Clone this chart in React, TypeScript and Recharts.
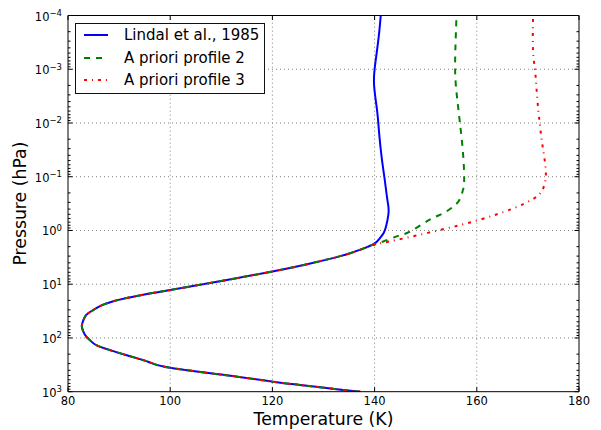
import React from 'react';
import { LineChart, Line, XAxis, YAxis, ReferenceLine, Legend } from 'recharts';

const FONT = '"DejaVu Sans", "Bitstream Vera Sans", Verdana, sans-serif';

// Shared lower atmosphere part (pressure in hPa, temperature in K)
const commonP = [1000, 900, 750, 650, 500, 360, 280, 210, 145, 117, 95, 76, 60, 47, 37, 30, 24, 18, 12.8, 8.7, 5.8, 4.2, 3.0, 2.3];
const commonT = [137.2, 132.6, 125.4, 120.0, 111.4, 100.0, 95.8, 91.5, 86.2, 84.6, 83.6, 83.0, 82.7, 83.0, 83.6, 85.0, 86.9, 91.5, 100.0, 110.0, 120.0, 127.0, 133.3, 137.1];

// Lindal et al., 1985 upper part
const lindalP = [1.8, 1.4, 1.1, 0.8, 0.5, 0.36, 0.23, 0.1, 0.045, 0.016, 0.006, 0.002, 0.001, 0.0007, 0.00025, 0.0001];
const lindalT = [139.8, 141.0, 141.8, 142.3, 142.7, 142.7, 142.4, 141.9, 141.4, 140.9, 140.5, 139.9, 140.0, 140.2, 140.8, 141.2];

// A priori profile 2 upper part
const prof2P = [1.86, 1.6, 1.26, 1.05, 0.63, 0.48, 0.36, 0.26, 0.175, 0.145, 0.076, 0.028, 0.01, 0.0038, 0.0014, 0.00045, 0.00012];
const prof2T = [139.5, 141.7, 144.6, 146.9, 150.8, 153.4, 155.4, 156.7, 157.3, 157.5, 157.5, 157.2, 156.7, 156.2, 155.8, 155.8, 156.0];

// A priori profile 3 upper part
const prof3P = [1.86, 1.5, 0.98, 0.63, 0.41, 0.32, 0.26, 0.21, 0.145, 0.076, 0.028, 0.01, 0.0032, 0.00105, 0.00045, 0.00011];
const prof3T = [139.8, 144.3, 152.8, 160.6, 166.5, 169.2, 171.0, 172.3, 173.2, 173.5, 172.9, 172.3, 171.8, 171.4, 171.0, 171.0];

const seriesNames = ['Lindal et al., 1985', 'A priori profile 2', 'A priori profile 3'];
const seriesColors = ['#0000ff', '#008000', '#ff0000'];
const seriesDashes = ['', '6 6', '3 5 1 5'];

const xTicks = [80, 100, 120, 140, 160, 180];
const xGrid = [100, 120, 140, 160];
const yMajorTicks = [0.0001, 0.001, 0.01, 0.1, 1, 10, 100, 1000];
const yGrid = [0.001, 0.01, 0.1, 1, 10, 100];
const yMinorMultipliers = [2, 3, 4, 5, 6, 7, 8, 9];

const yAllTicks: number[] = [...yMajorTicks];
yMajorTicks.slice(0, -1).forEach((d) => yMinorMultipliers.forEach((m) => yAllTicks.push(m * d)));
yAllTicks.sort((a, b) => a - b);

const toRows = (p: number[], t: number[]) => p.map((pv, i) => ({ p: pv, t: t[i] }));
const seriesData = [
  toRows([...commonP, ...lindalP], [...commonT, ...lindalT]),
  toRows([...commonP, ...prof2P], [...commonT, ...prof2T]),
  toRows([...commonP, ...prof3P], [...commonT, ...prof3T]),
];

const MAJOR_LEN = 4.5;
const MINOR_LEN = 2.5;
const Y_MARGIN = 6;
const X_MARGIN = 4;

const isMajor = (v: number) => {
  const l = Math.log10(v);
  return Math.abs(l - Math.round(l)) < 1e-6;
};

const LeftTick = (props: any) => {
  const { x, y, payload } = props;
  const v = payload.value;
  const edge = x + Y_MARGIN;
  const major = isMajor(v);
  const e = Math.round(Math.log10(v));
  const expStr = e < 0 ? '\u2212' + Math.abs(e) : String(e);
  return (
    <g>
      <line x1={edge} x2={edge + (major ? MAJOR_LEN : MINOR_LEN)} y1={y} y2={y} stroke="#000" strokeWidth={1} />
      {major && (
        <text x={x} y={y + 5} textAnchor="end" fontFamily={FONT} fontSize={11.5} fill="#000">
          10
          <tspan dy={-4.5} fontSize={8.5}>{expStr}</tspan>
        </text>
      )}
    </g>
  );
};

const RightTick = (props: any) => {
  const { x, y, payload } = props;
  const major = isMajor(payload.value);
  return <line x1={x} x2={x - (major ? MAJOR_LEN : MINOR_LEN)} y1={y} y2={y} stroke="#000" strokeWidth={1} />;
};

const BottomTick = (props: any) => {
  const { x, y, payload } = props;
  const edge = y - X_MARGIN;
  return (
    <g>
      <line x1={x} x2={x} y1={edge} y2={edge - MAJOR_LEN} stroke="#000" strokeWidth={1} />
      <text x={x} y={y + 9.3} textAnchor="middle" fontFamily={FONT} fontSize={11.5} fill="#000">
        {payload.value}
      </text>
    </g>
  );
};

const TopTick = (props: any) => {
  const { x, y } = props;
  return <line x1={x} x2={x} y1={y} y2={y + MAJOR_LEN} stroke="#000" strokeWidth={1} />;
};

const LegendBox = () => (
  <div
    style={{
      position: 'relative',
      boxSizing: 'border-box',
      width: 190,
      height: 71,
      border: '1px solid #111',
      background: '#fff',
      fontFamily: FONT,
      fontSize: 15,
      color: '#000',
    }}
  >
    {seriesNames.map((name, i) => (
      <div
        key={name}
        style={{ position: 'absolute', left: 0, top: 0.6 + i * 22.4, height: 22, lineHeight: '22px', width: 188, whiteSpace: 'nowrap' }}
      >
        <svg width={24} height={22} style={{ position: 'absolute', left: 8, top: 0 }}>
          <line x1={0} x2={24} y1={11} y2={11} stroke={seriesColors[i]} strokeWidth={2} strokeDasharray={seriesDashes[i] || undefined} />
        </svg>
        <span style={{ position: 'absolute', left: 48, top: 0 }}>{name}</span>
      </div>
    ))}
  </div>
);

export default function App() {
  return (
    <div style={{ position: 'absolute', left: 0, top: 0, width: 601, height: 430, background: '#fff' }}>
      <LineChart width={601} height={430} margin={{ top: 0, right: 0, bottom: 0, left: 0 }}>
        <XAxis
          xAxisId={0}
          dataKey="t"
          type="number"
          domain={[80, 180]}
          ticks={xTicks}
          interval={0}
          allowDataOverflow
          height={38.3}
          tickSize={0}
          tickMargin={X_MARGIN}
          tickLine={false}
          axisLine={{ stroke: '#000', strokeWidth: 1 }}
          tick={BottomTick}
          label={{ value: 'Temperature (K)', position: 'insideBottom', offset: 4.7, fontSize: 17.3, fill: '#000', fontFamily: FONT }}
        />
        <XAxis
          xAxisId="top"
          orientation="top"
          dataKey="t"
          type="number"
          domain={[80, 180]}
          ticks={xTicks}
          interval={0}
          allowDataOverflow
          height={15.5}
          tickSize={0}
          tickMargin={0}
          tickLine={false}
          axisLine={{ stroke: '#000', strokeWidth: 1 }}
          tick={TopTick}
        />
        <YAxis
          yAxisId={0}
          type="number"
          scale="log"
          domain={[0.0001, 1000]}
          reversed
          allowDataOverflow
          ticks={yAllTicks}
          interval={0}
          width={68}
          tickSize={0}
          tickMargin={Y_MARGIN}
          tickLine={false}
          axisLine={{ stroke: '#000', strokeWidth: 1 }}
          tick={LeftTick}
          label={{
            value: 'Pressure (hPa)',
            angle: -90,
            position: 'insideLeft',
            offset: 19.5,
            fontSize: 17.3,
            fill: '#000',
            fontFamily: FONT,
            style: { textAnchor: 'middle' },
          }}
        />
        <YAxis
          yAxisId="right"
          orientation="right"
          type="number"
          scale="log"
          domain={[0.0001, 1000]}
          reversed
          allowDataOverflow
          ticks={yAllTicks}
          interval={0}
          width={22}
          tickSize={0}
          tickMargin={0}
          tickLine={false}
          axisLine={{ stroke: '#000', strokeWidth: 1 }}
          tick={RightTick}
        />
        {xGrid.map((v) => (
          <ReferenceLine key={'gx' + v} x={v} stroke="#808080" strokeWidth={1} strokeDasharray="1 3" />
        ))}
        {yGrid.map((v) => (
          <ReferenceLine key={'gy' + v} y={v} stroke="#808080" strokeWidth={1} strokeDasharray="1 3" />
        ))}
        {seriesData.map((d, i) => (
          <Line
            key={seriesNames[i]}
            name={seriesNames[i]}
            data={d}
            dataKey="p"
            type="natural"
            stroke={seriesColors[i]}
            strokeWidth={2}
            strokeDasharray={seriesDashes[i] || undefined}
            dot={false}
            activeDot={false}
            isAnimationActive={false}
          />
        ))}
        <Legend
          layout="vertical"
          verticalAlign="middle"
          align="center"
          wrapperStyle={{ left: 75, top: 22.7, width: 190, height: 71 }}
          content={() => <LegendBox />}
        />
      </LineChart>
    </div>
  );
}
